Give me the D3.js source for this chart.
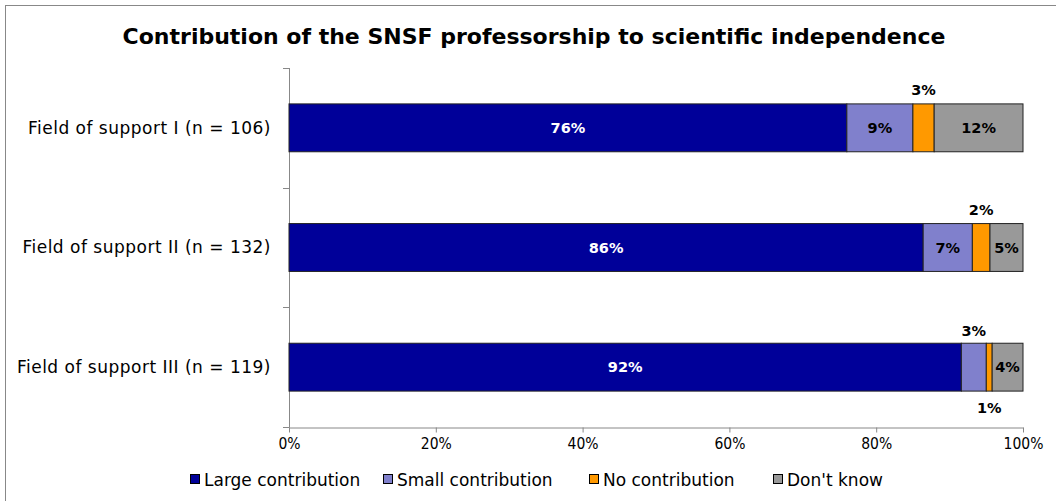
<!DOCTYPE html>
<html><head><meta charset="utf-8">
<script src="https://cdn.jsdelivr.net/npm/d3@7"></script>
<style>
html,body{margin:0;padding:0;background:#fff;}
svg{display:block;}
text{font-family:"DejaVu Sans",Verdana,sans-serif;}
</style></head>
<body>
<svg id="chart" width="1056" height="501"></svg>
<script>
const title = "Contribution of the SNSF professorship to scientific independence";
const categories = ["Field of support I (n = 106)", "Field of support II (n = 132)", "Field of support III (n = 119)"];
const seriesNames = ["Large contribution", "Small contribution", "No contribution", "Don't know"];
const seriesColors = ["#000099", "#8080cc", "#ff9900", "#999999"];
const large = [76, 86.4, 91.6];
const small = [9, 6.7, 3.4];
const none = [2.9, 2.4, 0.8];
const dontKnow = [12.1, 4.5, 4.2];
const labelLarge = ["76%", "86%", "92%"];
const labelSmall = ["9%", "7%", "3%"];
const labelNone = ["3%", "2%", "1%"];
const labelDontKnow = ["12%", "5%", "4%"];
const xTicks = [0, 20, 40, 60, 80, 100];

const svg = d3.select("#chart");
svg.append("rect").attr("x",5.5).attr("y",5.5).attr("width",1060).attr("height",520)
  .attr("fill","#fff").attr("stroke","#888").attr("stroke-width",1);

svg.append("text").attr("x",534).attr("y",44).attr("text-anchor","middle")
  .attr("font-size","22px").attr("font-weight","bold").attr("fill","#000").text(title);

const x = d3.scaleLinear().domain([0,100]).range([289,1023]);
const y = d3.scaleBand().domain(categories).range([68,427]).paddingInner(0.6).paddingOuter(0.3);

const seriesVals = [large, small, none, dontKnow];
const seriesLabels = [labelLarge, labelSmall, labelNone, labelDontKnow];
const rows = categories.map((c,i)=>{ const o={cat:c}; seriesNames.forEach((s,j)=>o[s]=seriesVals[j][i]); return o; });
const stack = d3.stack().keys(seriesNames)(rows);

// axes
const xAxis = d3.axisBottom(x).tickValues(xTicks).tickFormat(d=>d+"%").tickSize(5).tickSizeOuter(0);
const gx = svg.append("g").attr("transform","translate(0,427.5)").call(xAxis);
gx.select(".domain").attr("stroke","#888");
gx.selectAll(".tick line").attr("stroke","#888");
gx.selectAll(".tick text").attr("font-size","15.5px").attr("font-family","'DejaVu Sans Condensed','DejaVu Sans',sans-serif")
  .attr("font-stretch","condensed").attr("fill","#000").attr("dy","0.85em");

const yl = d3.scaleLinear().domain([0,3]).range([68,427]);
svg.append("line").attr("x1",289.5).attr("x2",289.5).attr("y1",68).attr("y2",427.5).attr("stroke","#888");
[0,1,2,3].forEach(k=>{
  svg.append("line").attr("x1",283).attr("x2",289.5).attr("y1",Math.round(yl(k))+0.5).attr("y2",Math.round(yl(k))+0.5).attr("stroke","#888");
});

svg.append("g").selectAll("text").data(categories).join("text")
  .attr("x",271).attr("y",d=>y(d)+y.bandwidth()/2).attr("dy","0.35em")
  .attr("text-anchor","end").attr("font-size","17px").attr("letter-spacing","0.5px").attr("fill","#000").text(d=>d);

// bars
stack.forEach((layer,j)=>{
  svg.append("g").selectAll("rect").data(layer).join("rect")
    .attr("x",d=>x(d[0])).attr("width",d=>x(d[1])-x(d[0]))
    .attr("y",d=>y(d.data.cat)).attr("height",y.bandwidth())
    .attr("fill",seriesColors[j]).attr("stroke","#222").attr("stroke-width",1);
});

// labels
stack.forEach((layer,j)=>{
  layer.forEach((d,i)=>{
    const cx = (x(d[0])+x(d[1]))/2;
    const w = x(d[1])-x(d[0]);
    let ly = y(d.data.cat)+y.bandwidth()/2, dy="0.35em";
    if (w < 25) {
      if (i===2 && j===2) { ly = y(d.data.cat)+y.bandwidth()+17; }
      else { ly = y(d.data.cat)-14; }
    }
    if (i===2 && j===1) { ly = y(d.data.cat)-12; }
    svg.append("text").attr("x",cx).attr("y",ly).attr("dy",dy)
      .attr("text-anchor","middle").attr("font-size","14.5px").attr("font-weight","bold")
      .attr("fill", j===0 ? "#fff" : "#000").text(seriesLabels[j][i]);
  });
});

// legend
const legX = [190, 383, 589, 773];
const lg = svg.append("g");
seriesNames.forEach((s,j)=>{
  lg.append("rect").attr("x",legX[j]+0.5).attr("y",474.5).attr("width",9).attr("height",9)
    .attr("fill",seriesColors[j]).attr("stroke","#000");
  lg.append("text").attr("x",legX[j]+14).attr("y",480).attr("dy","0.35em")
    .attr("font-size","17px").attr("fill","#000").text(s);
});
</script>
</body></html>
